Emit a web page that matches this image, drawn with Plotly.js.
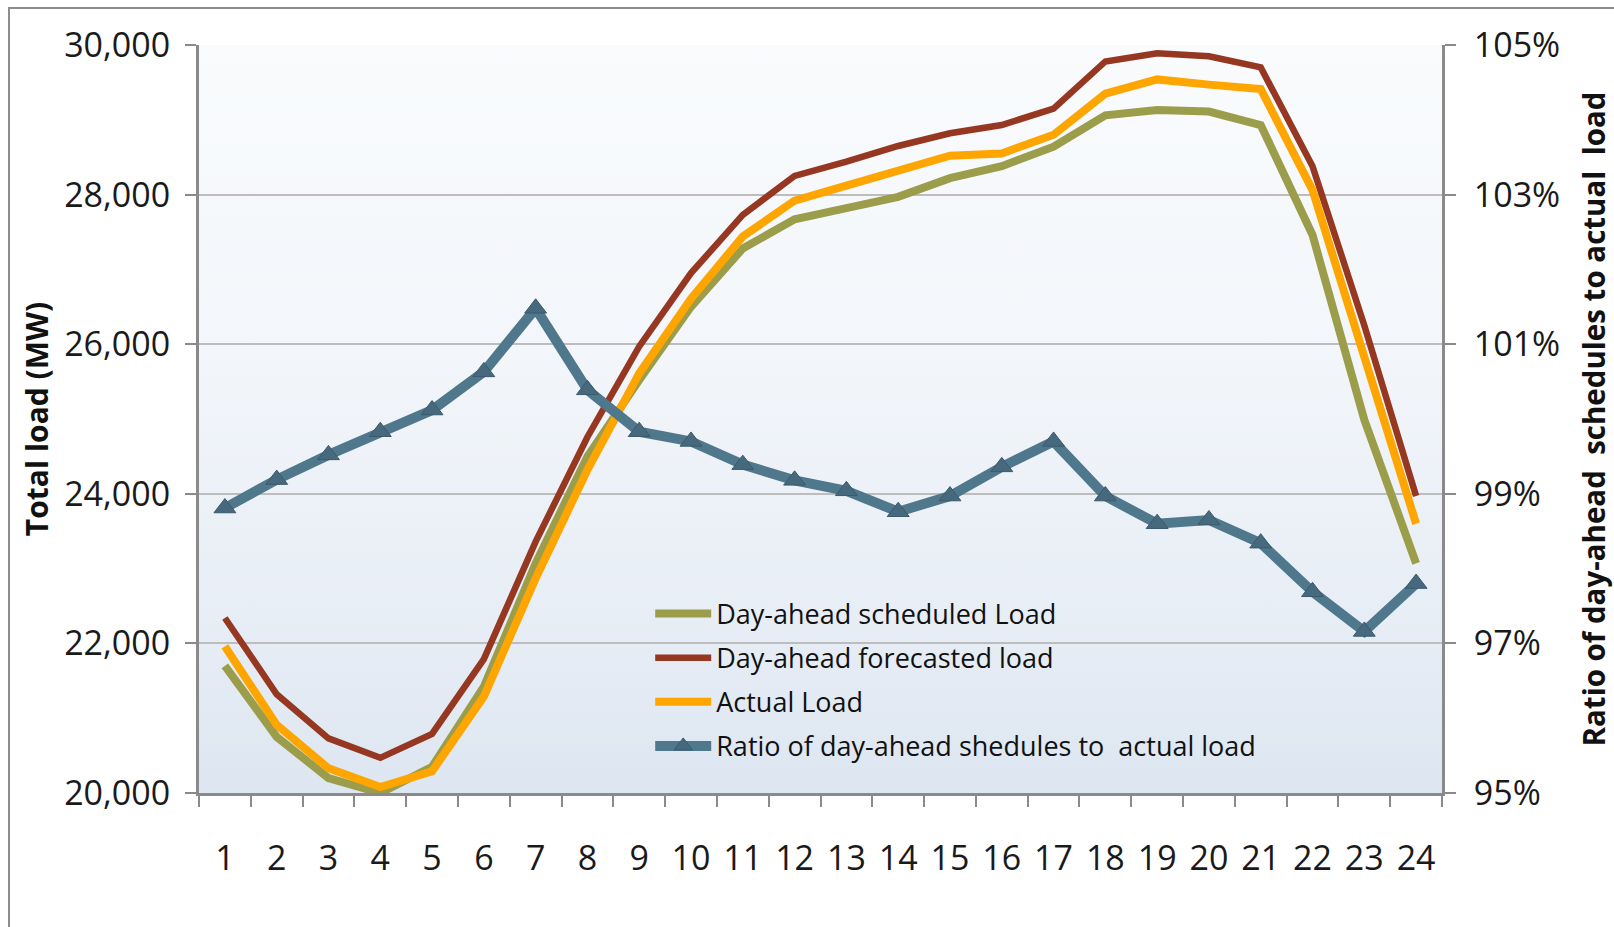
<!DOCTYPE html>
<html>
<head>
<meta charset="utf-8">
<script src="https://cdn.plot.ly/plotly-3.0.1.min.js"></script>
<style>
  html, body { margin: 0; padding: 0; background: #fff; }
  #wrap { position: relative; width: 1614px; height: 927px; overflow: hidden; }
  /* outer chart frame, runs off the right and bottom edge */
  #frame { position: absolute; left: 8px; top: 7px; width: 1700px; height: 1000px;
           border: 2px solid #8c8c8c; box-sizing: border-box; }
  /* gradient fill of the plot area */
  #plotbg { position: absolute; left: 199px; top: 45px; width: 1243px; height: 748px;
            background: linear-gradient(to bottom, #f9fbfd 0%, #f3f6fa 40%, #e8eef6 75%, #dde6f1 100%); }
  #chart { position: absolute; left: 0; top: 0; width: 1614px; height: 927px; }
</style>
</head>
<body>
<div id="wrap">
  <div id="frame"></div>
  <div id="plotbg"></div>
  <div id="chart"></div>
</div>
<script>
/* ==========================================================
   DATA
========================================================== */
const hours = ["1","2","3","4","5","6","7","8","9","10","11","12",
               "13","14","15","16","17","18","19","20","21","22","23","24"];

const scheduledLoad = [21700, 20750, 20200, 20000, 20350, 21420, 23070, 24500,
                       25520, 26500, 27280, 27670, 27820, 27970, 28220, 28380,
                       28640, 29060, 29130, 29110, 28930, 27460, 24990, 23070];

const forecastLoad = [22340, 21320, 20730, 20470, 20790, 21790, 23360, 24760,
                      25970, 26950, 27730, 28250, 28440, 28650, 28820, 28930,
                      29150, 29780, 29890, 29850, 29700, 28380, 26250, 23970];

const actualLoad = [21960, 20910, 20330, 20080, 20290, 21290, 22870, 24320,
                    25610, 26610, 27440, 27920, 28120, 28330, 28520, 28550,
                    28800, 29350, 29540, 29470, 29410, 28060, 25850, 23600];

// ratio in percent
const ratioPct = [98.81, 99.19, 99.52, 99.83, 100.12, 100.63, 101.48, 100.39,
                  99.83, 99.70, 99.39, 99.18, 99.04, 98.76, 98.97, 99.36,
                  99.70, 98.97, 98.60, 98.65, 98.34, 97.69, 97.16, 97.80];

const leftTicks = [20000, 22000, 24000, 26000, 28000, 30000];
const rightTicks = [95, 97, 99, 101, 103, 105];
const rightTickText = rightTicks.map(v => v + "%");

/* ==========================================================
   TRACES
========================================================== */
const traceScheduled = {
  x: hours, y: scheduledLoad,
  mode: "lines", name: "Day-ahead scheduled Load",
  legendgroup: "a",
  line: { color: "#9C9D4B", width: 8 }
};

const traceForecast = {
  x: hours, y: forecastLoad,
  mode: "lines", name: "Day-ahead forecasted load",
  legendgroup: "b",
  line: { color: "#953721", width: 6.5 }
};

const traceActual = {
  x: hours, y: actualLoad,
  mode: "lines", name: "Actual Load",
  legendgroup: "c",
  line: { color: "#FFA500", width: 8 }
};

const traceRatio = {
  x: hours, y: ratioPct,
  yaxis: "y2",
  mode: "lines+markers", name: "Ratio of day-ahead shedules to  actual load",
  legendgroup: "d",
  line: { color: "#50788C", width: 10 },
  marker: { symbol: "triangle-up", size: 19, color: "#46697E",
            line: { color: "#3B5A6C", width: 1 } }
};

/* ==========================================================
   LAYOUT
========================================================== */
const tickFont = { family: "Open Sans, sans-serif", size: 34, color: "#1a1a1a" };
const leftTitleFont = { family: "Open Sans, sans-serif", size: 30, color: "#111", weight: "bold" };
const rightTitleFont = { family: "Open Sans, sans-serif", size: 29.5, color: "#111", weight: "bold" };

const layout = {
  width: 1614,
  height: 927,
  margin: { l: 199, r: 172, t: 45, b: 134 },
  paper_bgcolor: "rgba(0,0,0,0)",
  plot_bgcolor: "rgba(0,0,0,0)",
  showlegend: true,
  legend: {
    x: 0.363, y: 0.272, xanchor: "left", yanchor: "top",
    bgcolor: "rgba(0,0,0,0)",
    traceorder: "grouped",
    tracegroupgap: 6,
    itemwidth: 56,
    font: { family: "Open Sans, sans-serif", size: 27, color: "#111" }
  },
  xaxis: {
    type: "category",
    range: [-0.5, 23.5],
    tickson: "boundaries",
    ticks: "outside", ticklen: 11, tickwidth: 2, tickcolor: "#8a8a8a",
    showline: true, linecolor: "#8a8a8a", linewidth: 3,
    showgrid: false, zeroline: false,
    tickfont: tickFont,
    ticklabelstandoff: 33
  },
  yaxis: {
    range: [20000, 30000],
    tickvals: leftTicks,
    tickformat: ",d",
    ticks: "outside", ticklen: 11, tickwidth: 2, tickcolor: "#8a8a8a",
    showline: true, linecolor: "#8a8a8a", linewidth: 3,
    showgrid: true, gridcolor: "#bdbdbd", gridwidth: 2,
    zeroline: false,
    tickfont: tickFont,
    ticklabelstandoff: 8,
    title: { text: "Total load (MW)", font: leftTitleFont, standoff: 7 }
  },
  yaxis2: {
    overlaying: "y", side: "right",
    range: [95, 105],
    tickmode: "array",
    tickvals: rightTicks,
    ticktext: rightTickText,
    ticks: "outside", ticklen: 11, tickwidth: 2, tickcolor: "#8a8a8a",
    showline: true, linecolor: "#8a8a8a", linewidth: 3,
    showgrid: false, zeroline: false,
    tickfont: tickFont,
    ticklabelstandoff: 11,
    title: { text: "Ratio of day-ahead&nbsp; schedules to actual&nbsp; load", font: rightTitleFont, standoff: 27 }
  }
};

Plotly.newPlot("chart", [traceScheduled, traceForecast, traceActual, traceRatio], layout,
  { displayModeBar: false, staticPlot: true });
</script>
</body>
</html>
